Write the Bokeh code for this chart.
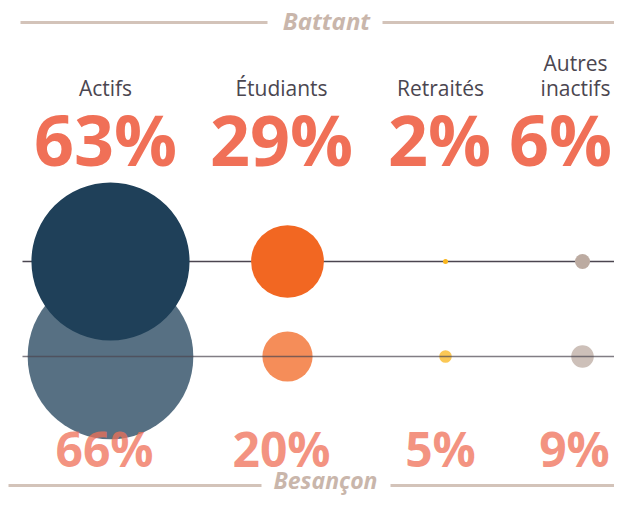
from bokeh.plotting import figure
from bokeh.models import Range1d
from bokeh.core.properties import value
from bokeh.embed import file_html
from bokeh.resources import INLINE

# ---- data ----
categories = ["Actifs", "Étudiants", "Retraités", "Autres inactifs"]
battant = [63, 29, 2, 6]
besancon = [66, 20, 5, 9]
zones = ["Battant", "Besançon"]

# ---- layout / style ----
W, H = 614, 495
circle_x = [110, 287, 445, 582]
label_x = [105, 281, 440, 575]
top_pct_x = [105, 281, 439, 560]
bot_pct_x = [104, 281, 440, 574]
row_y = [261, 356]
px_per_pct = 1.255  # radius scale
colors = ["#1F4059", "#F26722", "#F9B51C", "#BCABA1"]
pct_color = "#F07057"
label_color = "#4B4650"
zone_color = "#C9B6AB"
zone_line = "#D3C3B9"
FONT = "Open Sans"
BASE_SHIFT = 0.42  # empirical alphabetic-baseline correction (em)


def base(y, size):
    return y - BASE_SHIFT * size


p = figure(width=W, height=H, output_backend="svg", toolbar_location=None,
           x_range=Range1d(0, W), y_range=Range1d(H, 0),
           min_border=0, outline_line_color=None,
           x_axis_location=None, y_axis_location=None,
           background_fill_color="white", border_fill_color="white")
p.grid.visible = False

# zone headers
p.segment(x0=[20, 382], y0=[22, 22], x1=[267, 630], y1=[22, 22],
          line_color=zone_line, line_width=3)
p.text(x=[326], y=[base(30, 24)], text=[zones[0]], text_font=value(FONT),
       text_font_size="24px", text_font_style="bold italic",
       text_color=zone_color, text_align="center", text_baseline="alphabetic")
p.segment(x0=[8, 390], y0=[485, 485], x1=[261, 630], y1=[485, 485],
          line_color=zone_line, line_width=3)
p.text(x=[325], y=[base(489, 23)], text=[zones[1]], text_font=value(FONT),
       text_font_size="23px", text_font_style="bold italic",
       text_color=zone_color, text_align="center", text_baseline="alphabetic")

# category labels (long ones wrapped on two lines)
lx, ly, lt = [], [], []
for x, c in zip(label_x, categories):
    lines = c.split(" ") if len(c) > 10 else [c]
    for i, ln in enumerate(lines):
        lx.append(x)
        ly.append(base(96 - 25 * (len(lines) - 1 - i), 21))
        lt.append(ln)
p.text(x=lx, y=ly, text=lt, text_font=value(FONT), text_font_size="21px",
       text_color=label_color, text_align="center", text_baseline="alphabetic")

# Battant percentages
p.text(x=top_pct_x, y=[base(168, 70)] * 4, text=[f"{v}%" for v in battant],
       text_font=value(FONT), text_font_size="70px", text_font_style="bold",
       text_color=pct_color, text_align="center", text_baseline="alphabetic")

# Besançon circles and line (lighter)
p.circle(x=circle_x, y=[row_y[1]] * 4, radius=[v * px_per_pct for v in besancon],
         fill_color=colors, fill_alpha=0.75, line_color=None)
p.segment(x0=[22], y0=[row_y[1]], x1=[630], y1=[row_y[1]],
          line_color=label_color, line_alpha=0.7, line_width=1.5)

# Battant line and circles
p.segment(x0=[22], y0=[row_y[0]], x1=[630], y1=[row_y[0]],
          line_color=label_color, line_width=1.3)
p.circle(x=circle_x, y=[row_y[0]] * 4, radius=[v * px_per_pct for v in battant],
         fill_color=colors, line_color=None)

# Besançon percentages
p.text(x=bot_pct_x, y=[base(468, 48)] * 4, text=[f"{v}%" for v in besancon],
       text_font=value(FONT), text_font_size="48px", text_font_style="bold",
       text_color=pct_color, text_alpha=0.75, text_align="center",
       text_baseline="alphabetic")

open("out.html", "w").write(file_html(p, INLINE))
